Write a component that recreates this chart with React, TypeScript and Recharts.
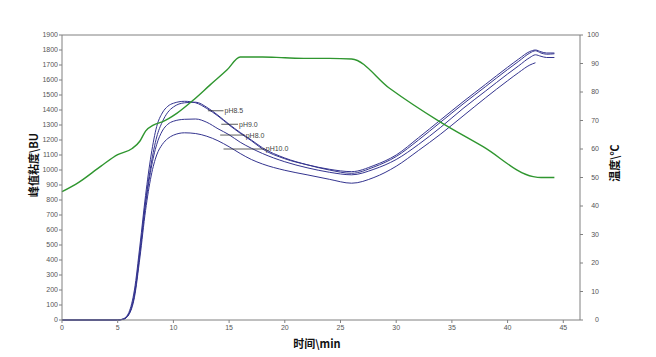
import { LineChart, Line, XAxis, YAxis, ReferenceLine } from 'recharts';

// time axis (min) shared by the four viscosity curves
const viscTime = [0, 5, 5.5, 6, 6.5, 7, 7.5, 8, 8.5, 9, 9.5, 10, 11, 12, 13, 14, 15, 16, 17, 18, 20, 22, 24, 26, 28, 30, 32, 34, 36, 38, 40, 41, 42, 42.5, 43, 43.5, 44.2];

// peak viscosity (BU) per pH
const ph85 = [0, 0, 8, 50, 200, 500, 830, 1100, 1290, 1380, 1425, 1445, 1458, 1448, 1410, 1360, 1300, 1245, 1195, 1140, 1075, 1035, 1005, 989, 1030, 1100, 1215, 1335, 1455, 1570, 1685, 1740, 1790, 1800, 1788, 1780, 1780];
const ph90 = [0, 0, 5, 40, 170, 460, 790, 1040, 1220, 1320, 1385, 1420, 1448, 1452, 1418, 1365, 1305, 1250, 1200, 1148, 1080, 1035, 1000, 978, 1020, 1090, 1200, 1320, 1440, 1555, 1670, 1725, 1780, 1795, 1780, 1772, 1775];
const ph80 = [0, 0, 5, 40, 165, 450, 770, 1010, 1170, 1260, 1305, 1325, 1338, 1340, 1318, 1275, 1235, 1185, 1145, 1110, 1055, 1015, 985, 968, 1005, 1070, 1170, 1285, 1410, 1525, 1640, 1695, 1750, 1768, 1758, 1750, 1750];
const ph100 = [0, 0, 5, 35, 150, 420, 730, 960, 1100, 1170, 1210, 1232, 1248, 1243, 1225, 1195, 1155, 1110, 1070, 1040, 998, 968, 938, 912, 950, 1025, 1130, 1240, 1360, 1480, 1595, 1650, 1700, 1715, null, null, null];

// temperature program (℃)
const tempTime = [0, 1.5, 3.5, 5, 6.3, 7, 7.5, 8.2, 9, 10.3, 11.8, 13.3, 14.8, 16, 18, 20, 22, 24, 26, 29.4, 33.9, 37.8, 42.3, 43, 44.2];
const tempValues = [45, 48.3, 54, 58, 60.2, 62.8, 66.3, 68.4, 69.5, 72.5, 77.2, 82.5, 87.7, 92.3, 92.3, 92, 91.8, 91.8, 91.6, 81.3, 69.6, 60.8, 50.3, 50, 50];

const xTicks = [0, 5, 10, 15, 20, 25, 30, 35, 40, 45];
const leftTicks = [0, 100, 200, 300, 400, 500, 600, 700, 800, 900, 1000, 1100, 1200, 1300, 1400, 1500, 1600, 1700, 1800, 1900];
const rightTicks = [0, 10, 20, 30, 40, 50, 60, 70, 80, 90, 100];

// curve annotations: label, leader start/end (min), level (BU)
const phLabels = ['pH8.5', 'pH9.0', 'pH8.0', 'pH10.0'];
const leaderFrom = [13.1, 14.3, 14.2, 14.5];
const leaderTo = [14.5, 15.8, 16.4, 18.2];
const leaderLevel = [1395, 1305, 1233, 1140];

const viscData = viscTime.map((t, i) => ({
  t,
  ph85: ph85[i],
  ph90: ph90[i],
  ph80: ph80[i],
  ph100: ph100[i],
}));
const tempData = tempTime.map((t, i) => ({ t, temp: tempValues[i] }));

const BLUE = '#34348f';
const GREEN = '#2f962f';
const AXIS = '#808080';
const tickStyle = { fontSize: 7, fill: '#555', fontFamily: 'Liberation Sans, Arial, sans-serif' };
const titleStyle: React.CSSProperties = {
  position: 'absolute',
  fontFamily: '"Noto Sans CJK SC", sans-serif',
  fontWeight: 'bold',
  fontSize: 11,
  color: '#111',
  whiteSpace: 'nowrap',
};

const RightTick = (props: any) => (
  <text x={props.x + 14} y={props.y} dy="0.35em" textAnchor="end" {...tickStyle}>
    {props.payload.value}
  </text>
);

export default function App() {
  return (
    <div style={{ position: 'absolute', left: 0, top: 0, width: 656, height: 357, background: '#fff' }}>
      <LineChart width={656} height={357} margin={{ top: 35, right: 26, bottom: 17, left: 12 }}>
        <XAxis
          dataKey="t"
          type="number"
          domain={[0, 46.5]}
          ticks={xTicks}
          allowDuplicatedCategory={false}
          height={20}
          tickSize={3}
          tickMargin={2}
          stroke={AXIS}
          tick={tickStyle}
        />
        <YAxis
          yAxisId="left"
          domain={[0, 1900]}
          ticks={leftTicks}
          width={50}
          tickSize={3}
          tickMargin={1}
          stroke={AXIS}
          tick={tickStyle}
          interval={0}
        />
        <YAxis
          yAxisId="right"
          orientation="right"
          domain={[0, 100]}
          ticks={rightTicks}
          width={50}
          tickSize={3}
          stroke={AXIS}
          tick={<RightTick />}
          interval={0}
        />
        <ReferenceLine yAxisId="left" y={1900} stroke={AXIS} />
        <Line yAxisId="left" data={viscData} dataKey="ph100" type="monotone" stroke={BLUE} strokeWidth={1} dot={false} isAnimationActive={false} />
        <Line yAxisId="left" data={viscData} dataKey="ph80" type="monotone" stroke={BLUE} strokeWidth={1} dot={false} isAnimationActive={false} />
        <Line yAxisId="left" data={viscData} dataKey="ph90" type="monotone" stroke={BLUE} strokeWidth={1} dot={false} isAnimationActive={false} />
        <Line yAxisId="left" data={viscData} dataKey="ph85" type="monotone" stroke={BLUE} strokeWidth={1} dot={false} isAnimationActive={false} />
        <Line yAxisId="right" data={tempData} dataKey="temp" type="monotone" stroke={GREEN} strokeWidth={1.4} dot={false} isAnimationActive={false} />
        {phLabels.map((lab, i) => (
          <ReferenceLine
            key={lab}
            yAxisId="left"
            ifOverflow="visible"
            segment={[
              { x: leaderFrom[i], y: leaderLevel[i] },
              { x: leaderTo[i], y: leaderLevel[i] },
            ]}
            stroke="#333"
            strokeWidth={0.8}
            label={{ value: lab, position: 'right', offset: 1, fontSize: 7, fill: '#444', fontFamily: 'Liberation Sans, Arial, sans-serif' }}
          />
        ))}
      </LineChart>
      <div style={{ ...titleStyle, left: 33, top: 165, transform: 'translate(-50%, -50%) rotate(-90deg)' }}>峰值粘度\BU</div>
      <div style={{ ...titleStyle, left: 614, top: 163, transform: 'translate(-50%, -50%) rotate(-90deg)' }}>温度\℃</div>
      <div style={{ ...titleStyle, left: 317, top: 343, transform: 'translate(-50%, -50%)' }}>时间\min</div>
    </div>
  );
}
